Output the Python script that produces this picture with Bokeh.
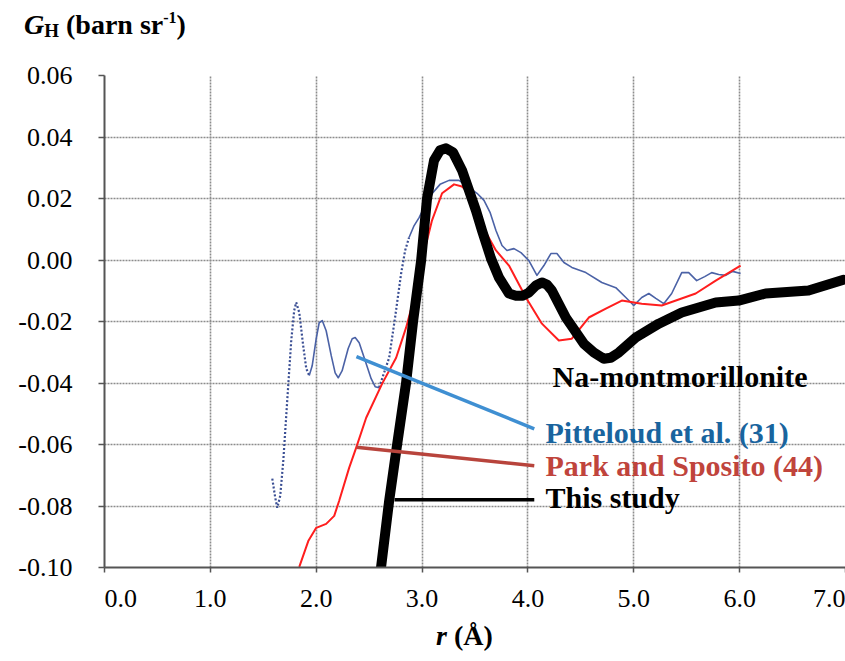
from bokeh.plotting import figure
from bokeh.models import Range1d, FixedTicker, NumeralTickFormatter, Label, Div
from bokeh.layouts import column
from bokeh.embed import file_html
from bokeh.resources import INLINE

# ---------------- data ----------------
x_ticks = [0, 1, 2, 3, 4, 5, 6, 7]
y_ticks = [-0.10, -0.08, -0.06, -0.04, -0.02, 0.00, 0.02, 0.04, 0.06]

# This study (thick black)
study_r = [2.613, 2.689, 2.764, 2.849, 2.915, 2.991, 3.047, 3.113, 3.170, 3.226,
           3.292, 3.377, 3.509, 3.566, 3.651, 3.726, 3.821, 3.887, 3.953, 4.009,
           4.075, 4.132, 4.179, 4.226, 4.358, 4.528, 4.623, 4.717, 4.783, 4.858,
           5.019, 5.236, 5.453, 5.774, 5.991, 6.245, 6.651, 6.981]
study_g = [-0.0998, -0.0783, -0.0601, -0.0399, -0.0200, -0.0002, 0.0200, 0.0324, 0.0357, 0.0363,
           0.0350, 0.0292, 0.0161, 0.0096, 0.0005, -0.0057, -0.0109, -0.0116, -0.0116, -0.0106,
           -0.0083, -0.0073, -0.0080, -0.0099, -0.0187, -0.0272, -0.0301, -0.0321, -0.0318, -0.0301,
           -0.0252, -0.0207, -0.0171, -0.0138, -0.0132, -0.0109, -0.0099, -0.0064]

# Park and Sposito (44) (red)
park_r = [1.840, 1.925, 2.000, 2.094, 2.170, 2.217, 2.311, 2.377, 2.472, 2.623,
          2.755, 2.849, 2.943, 3.000, 3.094, 3.189, 3.302, 3.377, 3.443, 3.566,
          3.698, 3.821, 3.981, 4.132, 4.292, 4.415, 4.575, 4.736, 4.887, 5.075,
          5.264, 5.585, 5.774, 6.009]
park_g = [-0.0998, -0.0914, -0.0871, -0.0858, -0.0832, -0.0783, -0.0676, -0.0611, -0.0513, -0.0402,
          -0.0318, -0.0220, -0.0099, -0.0002, 0.0129, 0.0217, 0.0246, 0.0239, 0.0217, 0.0112,
          0.0031, -0.0018, -0.0122, -0.0207, -0.0262, -0.0256, -0.0187, -0.0158, -0.0132, -0.0142,
          -0.0148, -0.0109, -0.0067, -0.0018]

# Pitteloud et al. (31) (blue)
pitt_r = [1.585, 1.613, 1.632, 1.660, 1.689, 1.726, 1.764, 1.792, 1.811, 1.840,
          1.877, 1.906, 1.934, 1.962, 2.000, 2.028, 2.057, 2.094, 2.142, 2.179,
          2.208, 2.245, 2.302, 2.340, 2.368, 2.406, 2.462, 2.519, 2.557, 2.594,
          2.632, 2.689, 2.745, 2.802, 2.840, 2.877, 2.925, 2.972, 3.038, 3.104,
          3.170, 3.255, 3.349, 3.443, 3.519, 3.585, 3.642, 3.698, 3.755, 3.802,
          3.868, 3.934, 4.009, 4.085, 4.151, 4.217, 4.274, 4.340, 4.415, 4.547,
          4.698, 4.830, 4.925, 5.000, 5.075, 5.142, 5.208, 5.283, 5.358, 5.453,
          5.519, 5.594, 5.670, 5.736, 5.802, 5.868, 5.934, 6.009]
pitt_g = [-0.0711, -0.0773, -0.0806, -0.0767, -0.0653, -0.0458, -0.0262, -0.0164, -0.0138, -0.0171,
          -0.0279, -0.0353, -0.0376, -0.0344, -0.0256, -0.0204, -0.0197, -0.0230, -0.0311, -0.0367,
          -0.0383, -0.0360, -0.0288, -0.0256, -0.0252, -0.0269, -0.0327, -0.0386, -0.0412, -0.0415,
          -0.0376, -0.0318, -0.0187, -0.0044, 0.0031, 0.0073, 0.0112, 0.0138, 0.0184, 0.0220,
          0.0246, 0.0259, 0.0259, 0.0236, 0.0217, 0.0194, 0.0155, 0.0096, 0.0047, 0.0031,
          0.0037, 0.0024, -0.0002, -0.0050, -0.0018, 0.0021, 0.0021, -0.0008, -0.0024, -0.0041,
          -0.0073, -0.0090, -0.0122, -0.0148, -0.0122, -0.0109, -0.0125, -0.0142, -0.0109, -0.0041,
          -0.0041, -0.0067, -0.0054, -0.0041, -0.0047, -0.0050, -0.0037, -0.0044]
# r-intervals of the Pitteloud curve drawn dotted
pitt_dotted = [(1.585, 1.934), (2.594, 2.877)]

# annotation leaders: (r0, g0, r1, g1)
lead_pitt = (2.38, -0.0314, 4.06, -0.0549)
lead_park = (2.38, -0.0609, 4.06, -0.0669)
lead_study = (2.74, -0.0780, 4.06, -0.0780)

# ---------------- layout ----------------
W = 845
TOP_H = 52                 # title strip
FL, FT, FB = 104, 23, 54   # figure borders
FRAME_H = 492
FIG_H = FT + FRAME_H + FB
BOT_H = 660 - TOP_H - FIG_H
XMAX = 7.0
SERIF = "Liberation Serif"

p = figure(width=W, height=FIG_H, output_backend="svg", toolbar_location=None,
           x_range=Range1d(0, XMAX), y_range=Range1d(-0.10, 0.06),
           min_border_left=FL, min_border_right=0, min_border_top=FT, min_border_bottom=FB)
p.outline_line_color = None
p.background_fill_color = "white"
p.border_fill_color = "white"

fw = W - FL
frame_top_page = TOP_H + FT
def px_x(cx):  # page px -> data x (for text placement)
    return (cx - FL) / fw * XMAX
def px_y(cy):
    return 0.06 - (cy - frame_top_page) / FRAME_H * 0.16

p.xaxis.ticker = FixedTicker(ticks=x_ticks)
p.yaxis.ticker = FixedTicker(ticks=y_ticks)
p.xaxis.formatter = NumeralTickFormatter(format="0.0")
p.yaxis.formatter = NumeralTickFormatter(format="0.00")
# the printed label of the first x tick sits slightly to the right
p.xaxis.major_label_overrides = {0: "\u00a0" * 5 + "0.0"}
for ax in (p.xaxis, p.yaxis):
    ax.axis_line_color = "#555555"
    ax.axis_line_width = 2
    ax.major_tick_line_color = "#555555"
    ax.major_tick_line_width = 1.5
    ax.major_tick_in = 0
    ax.minor_tick_line_color = None
    ax.major_label_text_font = SERIF
    ax.major_label_text_font_size = "26px"
    ax.major_label_text_color = "black"
p.xaxis.major_tick_out = 5
p.xaxis.major_label_standoff = 11
p.yaxis.major_tick_out = 6
p.yaxis.major_label_standoff = 26

for g in (p.xgrid, p.ygrid):
    g.grid_line_color = "#8c8c8c"
    g.grid_line_width = 1.6
    g.grid_line_dash = "2 1"
p.xgrid.ticker = FixedTicker(ticks=x_ticks)
p.ygrid.ticker = FixedTicker(ticks=y_ticks)

# ---- curves ----
bounds = sorted({pitt_r[0], pitt_r[-1]} | {b for seg in pitt_dotted for b in seg})
for a, b in zip(bounds[:-1], bounds[1:]):
    idx = [i for i, r in enumerate(pitt_r) if a - 1e-9 <= r <= b + 1e-9]
    xs = [pitt_r[i] for i in idx]
    ys = [pitt_g[i] for i in idx]
    dotted = any(abs(a - s) < 1e-9 and abs(b - e) < 1e-9 for s, e in pitt_dotted)
    if dotted:
        p.line(xs, ys, line_color="#3b4f94", line_width=2.2, line_dash="2 2")
    else:
        p.line(xs, ys, line_color="#4b62a6", line_width=1.6, line_join="round")

p.line(park_r, park_g, line_color="#ff1e1e", line_width=2, line_join="round")
p.line(study_r, study_g, line_color="black", line_width=10, line_join="round", line_cap="round")

for (r0, g0, r1, g1), col in ((lead_pitt, "#3f8fd2"), (lead_park, "#b8443c"), (lead_study, "black")):
    p.segment(x0=[r0], y0=[g0], x1=[r1], y1=[g1], line_color=col, line_width=3.5)

def lab(text, cx, cy, size, color="black", style="bold"):
    p.add_layout(Label(x=px_x(cx), y=px_y(cy), text=text, text_font=SERIF,
                       text_font_size=f"{size}px", text_font_style=style, text_color=color,
                       text_align="left", text_baseline="alphabetic"))

lab("Na-montmorillonite", 552, 376, 30)
lab("Pitteloud et al. (31)", 545, 432, 30, color="#19649e")
lab("Park and Sposito (44)", 545, 465, 30, color="#c0443c")
lab("This study", 545, 497, 30)

# ---- titles as rich text ----
font = f"font-family:'{SERIF}'; font-weight:bold; color:black; white-space:nowrap;"
top = Div(width=W, height=TOP_H, margin=(0, 0, 0, 0),
          text=(f"<div style=\"{font} font-size:28px; line-height:28px; margin:11px 0 0 24px;\">"
                "<i>G</i><span style=\"font-size:19px; position:relative; top:3px;\">H</span>"
                " (barn sr<span style=\"font-size:16px; position:relative; top:-11px;\">-1</span>)</div>"))
bottom = Div(width=W, height=BOT_H, margin=(0, 0, 0, 0),
             text=(f"<div style=\"{font} font-size:28px; line-height:20px; margin:5px 0 0 436px;\">"
                   "<i>r</i> (Å)</div>"))

layout = column(top, p, bottom, spacing=0)
html = file_html(layout, INLINE, "G_H")
open("out.html", "w").write(html)
